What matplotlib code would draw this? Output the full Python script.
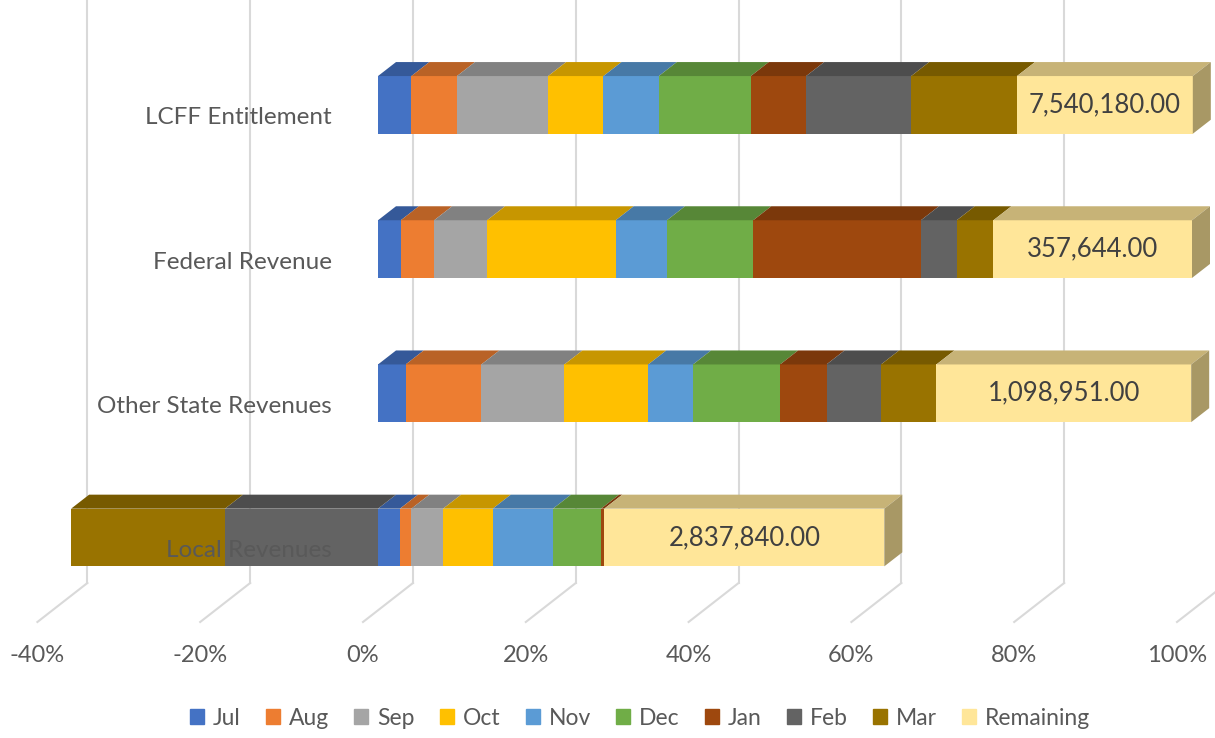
import matplotlib
matplotlib.use("Agg")
import matplotlib.pyplot as plt
from matplotlib.patches import Polygon, Rectangle
from matplotlib.colors import to_rgb

plt.rcParams['font.family'] = ['Lato', 'DejaVu Sans']

# data (percent of absolute total)
categories = ["Local Revenues", "Other State Revenues", "Federal Revenue", "LCFF Entitlement"]
months = ["Jul", "Aug", "Sep", "Oct", "Nov", "Dec", "Jan", "Feb", "Mar", "Remaining"]
shares = {
    "Jul":       [2.7, 3.4, 2.8, 4.1],
    "Aug":       [1.4, 9.3, 4.1, 5.6],
    "Sep":       [3.9, 10.2, 6.5, 11.2],
    "Oct":       [6.1, 10.3, 15.8, 6.8],
    "Nov":       [7.4, 5.5, 6.3, 6.8],
    "Dec":       [5.9, 10.7, 10.6, 11.3],
    "Jan":       [0.4, 5.7, 20.6, 6.8],
    "Feb":       [-18.8, 6.7, 4.4, 12.9],
    "Mar":       [-18.9, 6.8, 4.5, 13.0],
    "Remaining": [34.4, 31.3, 24.4, 21.6],
}
remaining_amounts = [2837840.00, 1098951.00, 357644.00, 7540180.00]
xticks = [-40, -20, 0, 20, 40, 60, 80, 100]

colors = ["#4472C4", "#ED7D31", "#A5A5A5", "#FFC000", "#5B9BD5",
          "#70AD47", "#9E480E", "#636363", "#997300", "#FFE699"]

def shade(c, f):
    r, g, b = to_rgb(c)
    return (r * f, g * f, b * f)

# layout, in data units (1 unit on x = 1 %)
px = 8.14            # pixels per percent
ppy = 144.2          # pixels per category step
h = 0.40             # bar height
ddx, ddy = 18 / px, 14 / ppy          # bar depth
back_dx = 35 / px                      # back wall offset
floor_dx, floor_dy = -50 / px, -39 / ppy
back_floor_y = -0.3155

fig = plt.figure(figsize=(12.15, 7.38), dpi=100)
ax = fig.add_axes([0, 0, 1, 1])
ax.set_xlim(-378 / px, (1215 - 378) / px)
ax.set_ylim((537.5 - 738) / ppy, 537.5 / ppy)
ax.axis("off")

# back wall gridlines + floor lines
for t in xticks:
    xb = t + back_dx
    ax.plot([xb, xb], [back_floor_y, 3.75], color="#D9D9D9", lw=1.5, zorder=0)
    ax.plot([xb, xb + floor_dx], [back_floor_y, back_floor_y + floor_dy],
            color="#D9D9D9", lw=1.5, zorder=0)
    ax.text(xb + floor_dx, -0.815, f"{t}%", ha="center", va="center",
            fontsize=17, color="#595959")

for i, cat in enumerate(categories):
    pos, neg = 0.0, 0.0
    right_edge, right_color = 0.0, None
    for m, c in zip(months, colors):
        v = shares[m][i]
        if v >= 0:
            left, pos = pos, pos + v
        else:
            neg = neg + v
            left = neg
        w = abs(v)
        ax.barh(i, w, left=left, height=h, color=c, zorder=2)
        top = i + h / 2
        ax.add_patch(Polygon([(left, top), (left + w, top),
                              (left + w + ddx, top + ddy), (left + ddx, top + ddy)],
                             closed=True, facecolor=shade(c, 0.78), edgecolor="none", zorder=2))
        if left + w >= right_edge:
            right_edge, right_color = left + w, c
        if m == "Remaining":
            ax.text(left + w / 2, i, f"{remaining_amounts[i]:,.2f}", ha="center",
                    va="center", fontsize=18.5, color="#404040", zorder=4)
    bot = i - h / 2
    ax.add_patch(Polygon([(right_edge, bot), (right_edge + ddx, bot + ddy),
                          (right_edge + ddx, bot + h + ddy), (right_edge, bot + h)],
                         closed=True, facecolor=shade(right_color, 0.66), edgecolor="none", zorder=2))
    ax.text(-5.65, i - 0.09, cat, ha="right", va="center", fontsize=17.5,
            color="#595959", zorder=5)

handles = [Rectangle((0, 0), 1, 1, color=c) for c in colors]
fig.legend(handles, months, loc="center", bbox_to_anchor=(0.527, 0.027), ncol=10,
           frameon=False, fontsize=16.5, handlelength=0.6, handleheight=0.6,
           handletextpad=0.4, columnspacing=1.1, labelcolor="#595959")

fig.savefig("out.png", dpi=100)
